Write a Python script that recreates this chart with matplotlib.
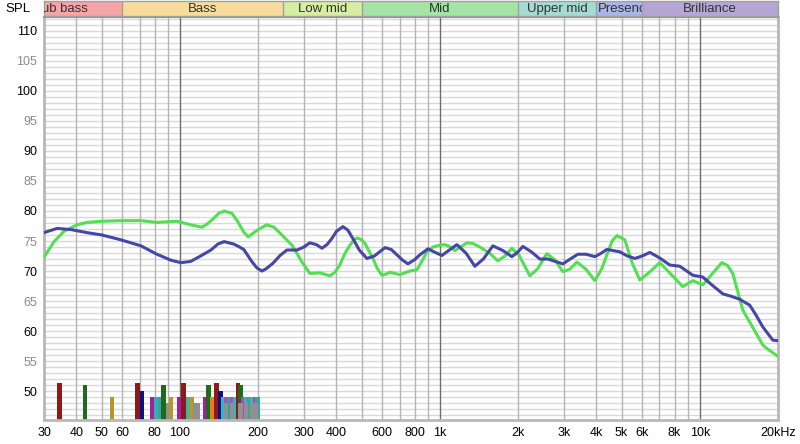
import numpy as np
import matplotlib.pyplot as plt
from matplotlib.patches import Rectangle
from matplotlib.ticker import FixedLocator, NullLocator

# green curve (Hz, dB)
green_f = [30, 32.8, 35.8, 40.2, 43.9, 50.2, 60.9, 70.8, 81.6, 97.4, 110, 121.6, 128, 135, 141,
           148, 158.6, 166, 176, 183, 200, 216, 230, 243, 270, 295, 316, 346, 378, 395, 412, 432,
           451, 465, 480, 497, 515, 553, 575, 599, 620, 643, 702, 767, 816, 850, 892, 940, 1000,
           1046, 1100, 1143, 1200, 1271, 1340, 1426, 1550, 1672, 1780, 1893, 2020, 2220, 2380,
           2580, 2780, 2974, 3160, 3366, 3650, 3948, 4200, 4400, 4600, 4798, 5148, 5500, 5883,
           6400, 7018, 7700, 8606, 9403, 10272, 11000, 12160, 12800, 13400, 14643, 16000, 17478,
           18112, 20000]
green_db = [72.3, 74.9, 76.6, 77.7, 78.1, 78.3, 78.4, 78.4, 78.1, 78.3, 77.7, 77.3, 77.9, 78.8, 79.6,
            80.0, 79.6, 78.4, 76.5, 75.7, 76.9, 77.7, 77.3, 76.3, 74.3, 71.5, 69.6, 69.7, 69.2, 69.8,
            71.0, 73.0, 74.3, 75.1, 75.5, 75.3, 74.6, 72.1, 70.4, 69.3, 69.5, 69.8, 69.4, 70.0, 70.2,
            71.5, 73.2, 74.0, 74.3, 74.4, 74.0, 73.4, 74.0, 74.7, 74.6, 74.0, 73.0, 71.7, 72.5, 73.8,
            72.6, 69.2, 70.4, 72.9, 71.8, 69.9, 70.3, 71.5, 70.3, 68.4, 70.4, 72.8, 75.0, 75.9, 75.2,
            71.3, 68.5, 69.8, 71.4, 69.6, 67.4, 68.4, 67.7, 69.2, 71.4, 70.9, 69.6, 63.5, 60.6, 57.7,
            57.1, 55.8]

# blue curve (Hz, dB)
blue_f = [30, 33.7, 38.1, 43.9, 50.2, 59.3, 70.8, 81.6, 92.4, 100.9, 110, 120, 131.6, 140, 148,
          161, 168, 176, 189, 198, 207, 215, 228, 243, 258, 282, 300, 316, 335, 352, 368, 384, 400,
          424, 443, 463, 490, 524, 560, 615, 650, 684, 720, 754, 800, 838, 900, 960, 1019, 1080,
          1163, 1260, 1364, 1470, 1600, 1750, 1893, 1990, 2087, 2250, 2426, 2604, 2780, 2974, 3200,
          3396, 3650, 3948, 4150, 4391, 4926, 5270, 5627, 6000, 6427, 7000, 7670, 8382, 9403,
          10272, 11200, 12267, 13200, 14259, 15578, 16500, 17478, 19099, 20000]
blue_db = [76.4, 77.1, 76.9, 76.4, 76.0, 75.2, 74.2, 72.8, 71.8, 71.4, 71.6, 72.5, 73.5, 74.5, 74.9,
           74.5, 74.1, 73.6, 71.6, 70.5, 70.0, 70.4, 71.3, 72.6, 73.5, 73.5, 74.0, 74.7, 74.4, 73.8,
           74.4, 75.4, 76.6, 77.4, 76.8, 75.4, 73.5, 72.1, 72.5, 73.9, 73.6, 72.7, 71.8, 71.2, 71.9,
           72.7, 73.7, 73.1, 72.6, 73.4, 74.4, 73.0, 70.8, 72.0, 74.2, 73.4, 72.4, 73.1, 74.1, 73.2,
           72.0, 72.0, 71.6, 71.2, 72.1, 72.8, 72.8, 72.4, 72.9, 73.6, 73.2, 72.5, 72.1, 72.5, 73.1,
           72.2, 71.0, 70.8, 69.3, 69.0, 67.6, 66.2, 65.8, 65.3, 64.3, 62.6, 60.7, 58.5, 58.4]

# bars at the bottom (Hz, dB, colour)
bar_f = [34.4, 43.0, 54.8, 68.7, 71.4, 78.1, 80.9, 83.8, 86.5, 90, 92.4, 99.6, 103.2, 107.4, 110.8,
         114.3, 117.5, 124.8, 128.8, 133.4, 138.2, 143.2, 146.4, 150.4, 154.4, 158.6, 162.8, 167.2,
         170.9, 174.8, 179.5, 184.3, 189.3, 194.4, 198.7,
         150.4, 158.6, 170.9, 179.5, 189.3, 196]
bar_db = [51.3, 51.0, 49.0, 51.3, 50.0, 49.0, 49.0, 49.0, 51.0, 48.0, 49.0, 49.0, 51.3, 49.0, 49.0,
          48.0, 48.0, 49.0, 51.0, 49.0, 51.3, 50.0, 49.0, 49.0, 49.0, 49.0, 49.0, 51.3,
          51.0, 49.0, 49.0, 49.0, 49.0, 49.0, 49.0,
          48.0, 48.0, 48.0, 48.0, 48.0, 48.0]
bar_c = ["#8b1a1a", "#1e6b1e", "#b8962e", "#8b1a1a", "#101080", "#a020a0", "#30b0b0", "#40a0a0",
         "#1e6b1e", "#909090", "#b8962e", "#a020a0", "#8b1a1a", "#30b8c0", "#b8962e",
         "#909090", "#909090", "#a020a0", "#1e6b1e", "#e08020", "#8b1a1a", "#101080", "#30b8c0",
         "#c040c0", "#30a0a0", "#c040c0", "#30b8c0", "#8b1a1a", "#1e6b1e", "#c040c0", "#30b8c0",
         "#40a0a0", "#30b8c0", "#c040c0", "#40a0a0",
         "#909090", "#909090", "#909090", "#909090", "#909090", "#909090"]

# frequency bands along the top
band_names = ["Sub bass", "Bass", "Low mid", "Mid", "Upper mid", "Presence", "Brilliance"]
band_edges = [20, 60, 250, 500, 2000, 4000, 6000, 20000]
band_cols = ["#f5a5a5", "#f8dc9c", "#d6eea2", "#a4e4a4", "#a4dcd4", "#a6b6e6", "#b6a6d6"]

x_ticks = [30, 40, 50, 60, 80, 100, 200, 300, 400, 600, 800, 1000, 2000, 3000, 4000, 5000,
           6000, 8000, 10000, 20000]
x_labels = ["30", "40", "50", "60", "80", "100", "200", "300", "400", "600", "800", "1k", "2k",
            "3k", "4k", "5k", "6k", "8k", "10k", "20kHz"]
y_ticks = [50, 55, 60, 65, 70, 75, 80, 85, 90, 95, 100, 105, 110]

plt.rcParams["font.family"] = ["Liberation Sans", "DejaVu Sans"]

fig = plt.figure(figsize=(8, 4.44), dpi=100)
ax = fig.add_axes([44 / 800, 24 / 444, 734 / 800, 403 / 444])
ax.set_xscale("log")
ax.set_xlim(30, 20000)
ax.set_ylim(45.2, 112.3)

# grid
for v in range(46, 113):
    ax.axhline(v, color="#d9d9d9", lw=1, zorder=0)
grid_f = [30, 40, 50, 60, 70, 80, 90, 100, 200, 300, 400, 500, 600, 700, 800, 900, 1000,
          2000, 3000, 4000, 5000, 6000, 7000, 8000, 9000, 10000, 20000]
for g in grid_f:
    dark = g in (100, 1000, 10000)
    ax.axvline(g, color="#6e6e6e" if dark else "#b4b4b4", lw=1, zorder=0.5)

# bars
ratio = 1.019
for f, d, c in zip(bar_f, bar_db, bar_c):
    ax.bar(f / ratio, d - 40, width=f * ratio - f / ratio, bottom=40, align="edge",
           color=c, zorder=2)

ax.plot(green_f, green_db, color="#52e052", lw=2.2, zorder=3, solid_joinstyle="round")
ax.plot(blue_f, blue_db, color="#4646a6", lw=2.2, zorder=4, solid_joinstyle="round")

ax.xaxis.set_major_locator(FixedLocator(x_ticks))
ax.xaxis.set_minor_locator(NullLocator())
ax.set_xticklabels(x_labels)
ax.set_yticks(y_ticks)
ax.set_yticklabels([str(v) for v in y_ticks])
for lbl, v in zip(ax.get_yticklabels(), y_ticks):
    lbl.set_color("#000000" if v % 10 == 0 else "#8a8a8a")
ax.tick_params(axis="both", length=0, labelsize=9)
ax.tick_params(axis="y", pad=5)
ax.tick_params(axis="x", pad=5)
for s in ax.spines.values():
    s.set_color("#b8b8b8")
    s.set_linewidth(2)
ax.spines["top"].set_color("#909090")
ax.spines["top"].set_linewidth(1.5)

# band strip
bx = fig.add_axes([44 / 800, 428 / 444, 734 / 800, 15 / 444])
bx.set_xscale("log")
bx.set_xlim(30, 20000)
bx.set_ylim(0, 1)
for i, name in enumerate(band_names):
    lo, hi = band_edges[i], band_edges[i + 1]
    bx.axvspan(lo, hi, color=band_cols[i], lw=0)
    if i > 0:
        bx.axvline(lo, color="#a0a0a0", lw=1)
    if name == "Presence":
        t = bx.text(lo * 1.01, 0.45, name, ha="left", va="center", fontsize=9.5, color="#333333")
    else:
        t = bx.text(np.sqrt(lo * hi), 0.45, name, ha="center", va="center", fontsize=9.5,
                    color="#333333")
    clip = Rectangle((max(lo, 30), 0), min(hi, 20000) - max(lo, 30), 1, transform=bx.transData)
    t.set_clip_on(True)
    t.set_clip_path(clip)
bx.set_xticks([])
bx.set_yticks([])
bx.xaxis.set_minor_locator(NullLocator())
for s in bx.spines.values():
    s.set_color("#a0a0a0")
    s.set_linewidth(1)

fig.text(5 / 800, 1 - 9 / 444, "SPL", fontsize=9.5, va="center", ha="left")

fig.savefig("out.png", dpi=100)
